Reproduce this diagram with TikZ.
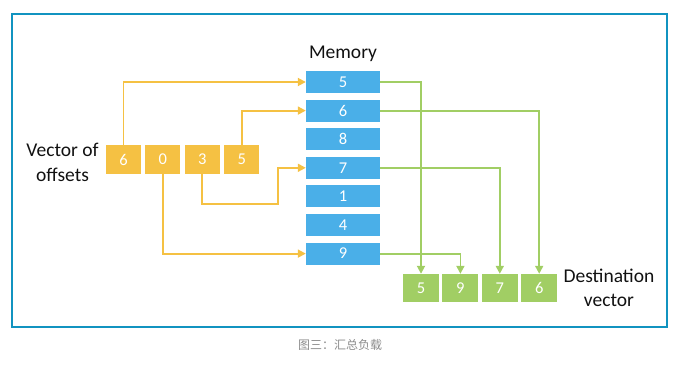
\documentclass[tikz,border=0pt]{standalone}
\usepackage{fontspec}
\setmainfont{Carlito}
\newfontfamily\cjkfont{Noto Sans CJK SC}
\usepackage{tikz}
\usetikzlibrary{arrows.meta,positioning}
\definecolor{cOff}{HTML}{F5C143}
\definecolor{cMem}{HTML}{4AAFE8}
\definecolor{cDst}{HTML}{A1CE64}
\definecolor{cFrame}{HTML}{1193C0}
\definecolor{cText}{HTML}{111111}
\definecolor{cCap}{HTML}{8C8C8C}
\tikzset{
  cell/.style={draw=none, inner sep=0pt, text=white,
               font=\fontsize{16.5}{18}\selectfont},
  memblk/.style={cell, fill=cMem, minimum width=74pt, minimum height=22pt},
  offblk/.style={cell, fill=cOff, minimum width=35pt, minimum height=29pt},
  dstblk/.style={cell, fill=cDst, minimum width=36pt, minimum height=28pt},
  offarr/.style={-{Triangle[length=8pt,width=8pt]}, line width=1.8pt, cOff},
  dstarr/.style={-{Triangle[length=8pt,width=8pt]}, line width=1.8pt, cDst},
  lbl/.style={inner sep=0pt, text=cText, align=center,
              font=\fontsize{19.5}{24.5}\selectfont}
}

\begin{document}
\begin{tikzpicture}[x=1pt, y=-1pt, node distance=6.2pt]
\useasboundingbox (0,0) rectangle (678,367);
\draw[cFrame, line width=2.2pt] (12,14) rectangle (667,327);
% memory column
\node[memblk] (m5) at (343,82) {5};
\node[memblk, below=of m5] (m6) {6};
\node[memblk, below=of m6] (m8) {8};
\node[memblk, below=of m8] (m7) {7};
\node[memblk, below=of m7] (m1) {1};
\node[memblk, below=of m1] (m4) {4};
\node[memblk, below=of m4] (m9) {9};
\node[lbl, above=9pt of m5] (memlbl) {Memory};
% vector of offsets
\node[offblk] (o6) at (123.5,159.5) {6};
\node[offblk, right=4pt of o6] (o0) {0};
\node[offblk, right=4pt of o0] (o3) {3};
\node[offblk, right=4pt of o3] (o5) {5};
\node[lbl, left=7pt of o6, yshift=-3pt] (offlbl) {Vector of\\offsets};
% destination vector
\node[dstblk] (d5) at (421,288) {5};
\node[dstblk, right=3pt of d5] (d9) {9};
\node[dstblk, right=3pt of d9] (d7) {7};
\node[dstblk, right=3pt of d7] (d6) {6};
\node[lbl, right=6pt of d6] (dstlbl) {Destination\\vector};
% gather
\draw[offarr] (o6.north) |- (m5.west);
\draw[offarr] (o5.north) |- (m6.west);
\draw[offarr] (o3.south) -- ++(0,30) -| ([xshift=-28pt]m7.west) -- (m7.west);
\draw[offarr] (o0.south) |- (m9.west);
\draw[dstarr] (m5.east) -| (d5.north);
\draw[dstarr] (m6.east) -| (d6.north);
\draw[dstarr] (m7.east) -| (d7.north);
\draw[dstarr] (m9.east) -| (d9.north);
\node[text=cCap, font=\cjkfont\fontsize{12}{14}\selectfont] (caption) at (340,345) {图三：汇总负载};
\end{tikzpicture}
\end{document}
